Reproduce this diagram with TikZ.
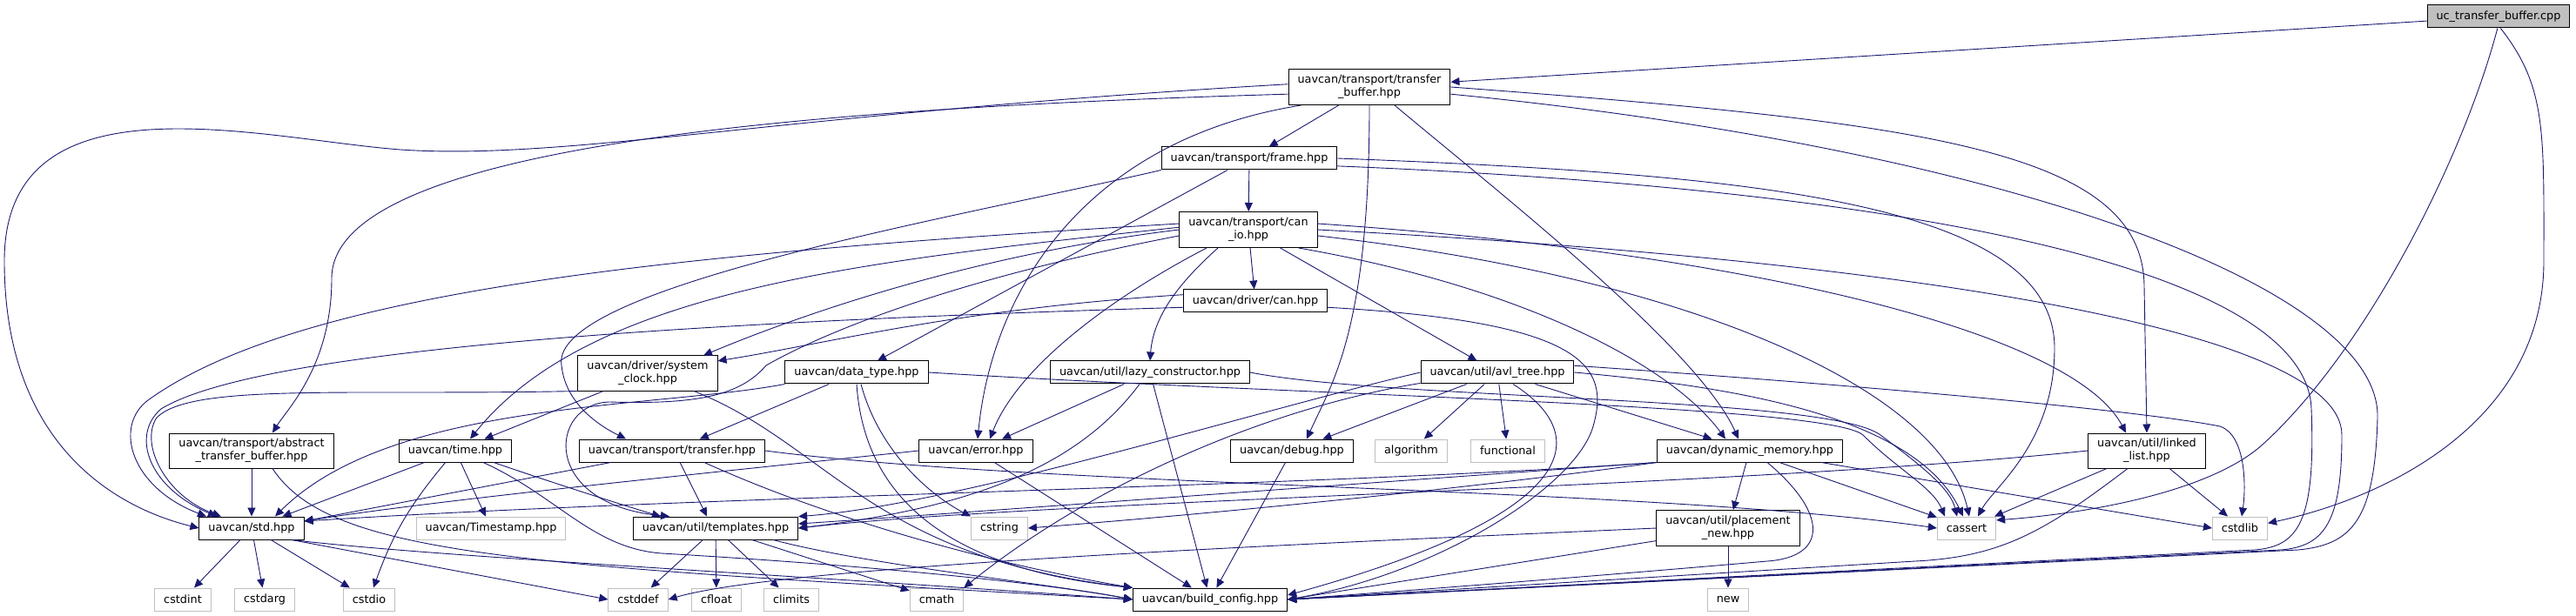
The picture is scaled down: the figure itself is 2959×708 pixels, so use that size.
\documentclass[tikz,border=0pt]{standalone}
\usepackage{fontspec}
\setmainfont{DejaVu Sans}
\usetikzlibrary{arrows.meta}
\definecolor{edgeblue}{HTML}{191970}
\definecolor{boxgrey}{HTML}{BFBFBF}
\def\incfont{\fontsize{12.8}{15}\selectfont}

\begin{document}
\begin{tikzpicture}[x=1pt,y=-1pt,
    >={Triangle[length=10pt,width=9pt]},
    hdr/.style={draw=black,fill=white,line width=1pt,font=\incfont,inner xsep=10.5pt,inner ysep=2pt,minimum height=26pt,align=center},
    hdrtwo/.style={hdr,minimum height=41pt},
    syshdr/.style={hdr,draw=boxgrey},
    srcfile/.style={hdr,fill=boxgrey},
    dep/.style={->,edgeblue,line width=0.9pt}]
\useasboundingbox (0,0) rectangle (2959,708);

          \node [srcfile] at (2870,19) (root) {uc\_transfer\_buffer.cpp};
             \node [hdrtwo] at (1573,100) (tbuf) {uavcan/transport/transfer\\\_buffer.hpp};
              \node [hdr] at (1435,182) (frame) {uavcan/transport/frame.hpp};
               \node [hdrtwo] at (1434,264) (canio) {uavcan/transport/can\\\_io.hpp};
                \node [hdr] at (1442,346) (drvcan) {uavcan/driver/can.hpp};
                 \node [hdr] at (1321,428) (lazy) {uavcan/util/lazy\_constructor.hpp};
                 \node [hdr] at (1720,428) (avl) {uavcan/util/avl\_tree.hpp};
                 \node [hdr] at (984,428) (dtype) {uavcan/data\_type.hpp};
                 \node [hdrtwo,minimum height=40pt] at (744,429) (sysclk) {uavcan/driver/system\\\_clock.hpp};
%
                \node [hdr] at (523,518) (time) {uavcan/time.hpp};
                \node [hdr] at (772,518) (xfer) {uavcan/transport/transfer.hpp};
                \node [hdr] at (1121,518) (err) {uavcan/error.hpp};
                \node [hdr] at (1484,518) (dbg) {uavcan/debug.hpp};
                \node [syshdr] at (1621,518) (algo) {algorithm};
                \node [syshdr] at (1732,518) (func) {functional};
                \node [hdr] at (2010,518) (dynmem) {uavcan/dynamic\_memory.hpp};
                \node [hdrtwo,minimum height=40pt] at (2466,518) (llist) {uavcan/util/linked\\\_list.hpp};
                \node [hdrtwo,minimum height=40pt] at (289,518) (absbuf) {uavcan/transport/abstract\\\_transfer\_buffer.hpp};
%
               \node [hdr] at (289,607) (std) {uavcan/std.hpp};
               \node [syshdr] at (564,607) (tstamp) {uavcan/Timestamp.hpp};
               \node [hdr] at (822,607) (tmpl) {uavcan/util/templates.hpp};
               \node [syshdr] at (1148,607) (cstring) {cstring};
               \node [syshdr] at (2259,607) (cassert) {cassert};
               \node [syshdr] at (2573,607) (cstdlib) {cstdlib};
               \node [hdrtwo] at (1985,607) (plnew) {uavcan/util/placement\\\_new.hpp};
%
             \node [syshdr] at (210,689) (cstdint) {cstdint};
             \node [syshdr] at (304,689) (cstdarg) {cstdarg};
             \node [syshdr] at (424,689) (cstdio) {cstdio};
             \node [syshdr] at (733,689) (cstddef) {cstddef};
             \node [syshdr] at (823,689) (cfloat) {cfloat};
             \node [syshdr] at (909,689) (climits) {climits};
             \node [syshdr] at (1076,689) (cmath) {cmath};
             \node [hdr] at (1390,689) (bcfg) {uavcan/build\_config.hpp};
             \node [syshdr] at (1985,689) (cnew) {new};
%
%
\path[dep] (root) edge (tbuf);
\draw[dep] (root.-95) .. controls (2830,180) and (2720,400) .. (2600,510) .. controls (2540,565) and (2400,590) .. (cassert.15);
\draw[dep] (root.-80) .. controls (2925,100) and (2922,150) .. (2922,300) .. controls (2922,480) and (2750,570) .. (cstdlib.10);
%
\path[dep] (tbuf) edge (frame);
\draw[dep] (tbuf.178) .. controls (900,130) and (650,185) .. (460,172) .. controls (300,160) and (5,80) .. (5,300) .. controls (5,500) and (120,580) .. (std.west);
\draw[dep] (tbuf.185) .. controls (900,125) and (381,170) .. (381,320) .. controls (381,420) and (330,470) .. ([xshift=24pt]absbuf.north);
\draw[dep] (tbuf.195) .. controls (1250,160) and (1140,330) .. ([xshift=2pt]err.north);
\draw[dep] (tbuf.south) .. controls (1573,380) and (1530,440) .. ([xshift=17pt]dbg.north);
\draw[dep] ([xshift=29pt]tbuf.south) .. controls (1720,220) and (1950,400) .. ([xshift=-13pt]dynmem.north);
\draw[dep] (tbuf.east) .. controls (2200,140) and (2463,170) .. (2463,330) -- (llist.north);
\draw[dep] (tbuf.-5) .. controls (2300,170) and (2735,330) .. (2731,480) .. controls (2728,600) and (2700,626) .. (2640,632) -- (bcfg.east);
%
\path[dep] (frame) edge (canio);
\draw[dep] (frame.south west) .. controls (1100,250) and (630,330) .. (645,420) .. controls (650,470) and (700,495) .. ([xshift=-53pt]xfer.north);
\path[dep] ([xshift=-25pt]frame.south) edge ([xshift=24pt]dtype.north);
\draw[dep] (frame.east) .. controls (2000,200) and (2360,230) .. (2360,400) .. controls (2360,510) and (2290,560) .. ([xshift=13pt]cassert.north);
\draw[dep] (frame.-5) .. controls (2250,220) and (2650,320) .. (2655,470) .. controls (2660,600) and (2640,628) .. (2590,632) -- (bcfg.east);
%
\path[dep] (canio) edge (drvcan);
\path[dep] (canio) edge (avl);
\draw[dep] ([xshift=-35pt]canio.south) .. controls (1360,320) and (1325,360) .. (lazy.north);
\draw[dep] ([xshift=-48pt]canio.south) .. controls (1280,340) and (1170,420) .. ([xshift=16pt]err.north);
\draw[dep] (canio.west) .. controls (1100,295) and (900,370) .. ([xshift=64pt]sysclk.north);
\draw[dep] (canio.178) .. controls (1000,300) and (680,330) .. ([xshift=17pt]time.north);
\draw[dep] (canio.175) .. controls (800,290) and (350,330) .. (170,460) .. controls (130,490) and (150,560) .. ([xshift=-52pt]std.north);
\draw[dep] (canio.185) .. controls (1100,320) and (950,380) .. (880,420) .. controls (850,455) and (800,465) .. (700,462) .. controls (630,464) and (620,580) .. ([xshift=-53pt]tmpl.north);
\draw[dep] (canio.-20) .. controls (1750,330) and (1920,420) .. ([xshift=-28pt]dynmem.north);
\draw[dep] (canio.5) .. controls (2000,290) and (2380,380) .. ([xshift=-24pt]llist.north);
\draw[dep] (canio.-5) .. controls (1950,320) and (2230,450) .. ([xshift=3pt]cassert.north);
\draw[dep] (canio.east) .. controls (2200,300) and (2690,380) .. (2690,500) .. controls (2690,600) and (2670,628) .. (2620,632) -- (bcfg.east);
%
\draw[dep] (drvcan.175) .. controls (1100,355) and (950,395) .. (sysclk.10);
\draw[dep] (drvcan.185) .. controls (800,370) and (300,400) .. (185,470) .. controls (150,500) and (170,560) .. ([xshift=-40pt]std.north);
\draw[dep] (drvcan.-5) .. controls (1820,370) and (1850,420) .. (1830,490) .. controls (1810,560) and (1650,660) .. (bcfg.east);
%
\path[dep] (sysclk) edge (time);
\draw[dep] (sysclk.south west) .. controls (400,455) and (220,440) .. (180,480) .. controls (160,510) and (190,570) .. ([xshift=-35pt]std.north);
\draw[dep] ([xshift=53pt]sysclk.south) .. controls (950,510) and (1000,640) .. (bcfg.north west);
%
\path[dep] (dtype) edge (xfer);
\draw[dep] (dtype.south west) .. controls (750,470) and (450,460) .. ([xshift=27pt]std.north);
\draw[dep] ([xshift=5pt]dtype.south) .. controls (1010,520) and (1070,570) .. (cstring.north west);
\draw[dep] (dtype.south) .. controls (995,610) and (1150,660) .. (bcfg.north west);
\draw[dep] (dtype.east) .. controls (1500,455) and (2100,465) .. (2140,500) .. controls (2180,540) and (2220,560) .. ([xshift=-25pt]cassert.north);
%
\path[dep] (lazy) edge (err);
\draw[dep] ([xshift=-12pt]lazy.south) .. controls (1250,520) and (1150,580) .. (tmpl.east);
\path[dep] (lazy) edge (bcfg);
\draw[dep] (lazy.east) .. controls (1600,460) and (2100,455) .. (2160,500) .. controls (2200,530) and (2240,560) .. ([xshift=-11pt]cassert.north);
%
\path[dep] (avl) edge (dbg);
\path[dep] (avl) edge (algo);
\path[dep] (avl) edge (func);
\path[dep] (avl) edge (dynmem);
\draw[dep] (avl.west) .. controls (1450,470) and (1100,580) .. (tmpl.8);
\draw[dep] (avl.-172) .. controls (1450,470) and (1250,560) .. (cmath.north east);
\draw[dep] ([xshift=18pt]avl.south) .. controls (1830,500) and (1820,590) .. ([yshift=5pt]bcfg.east);
\draw[dep] (avl.east) .. controls (2000,445) and (2200,480) .. ([xshift=-4pt]cassert.north);
\draw[dep] (avl.5) .. controls (2100,440) and (2450,470) .. (2550,490) .. controls (2580,500) and (2580,560) .. ([xshift=2pt]cstdlib.north);
%
\path[dep] (time) edge (std);
\path[dep] (time) edge (tstamp);
\path[dep] (time) edge[bend right=10] (cstdio);
\draw[dep] ([xshift=44pt]time.south) .. controls (650,560) and (730,585) .. ([xshift=-63pt]tmpl.north);
\draw[dep] ([xshift=32pt]time.south) .. controls (640,570) and (680,630) .. (760,636) .. controls (1000,650) and (1200,670) .. (bcfg.west);
%
\path[dep] (xfer) edge ([yshift=8pt]std.east);
\path[dep] ([xshift=9pt]xfer.south) edge ([xshift=-10pt]tmpl.north);
\draw[dep] ([xshift=37pt]xfer.south) .. controls (960,600) and (1150,650) .. (bcfg.north west);
\draw[dep] (xfer.east) .. controls (1200,560) and (1900,560) .. (cassert.west);
%
\draw[dep] (err.west) .. controls (800,545) and (500,575) .. ([yshift=8pt]std.east);
\path[dep] (err) edge (bcfg);
\path[dep] (dbg) edge (bcfg);
%
\draw[dep] (dynmem.south west) .. controls (1500,560) and (800,570) .. ([yshift=8pt]std.east);
\draw[dep] (dynmem.south west) .. controls (1500,560) and (1100,590) .. (tmpl.3);
\draw[dep] (dynmem.south west) .. controls (1700,560) and (1400,590) .. (cstring.east);
\path[dep] ([xshift=-4pt]dynmem.south) edge (plnew);
\path[dep] ([xshift=34pt]dynmem.south) edge (cassert.160);
\path[dep] ([xshift=82pt]dynmem.south) edge (cstdlib.west);
\draw[dep] ([xshift=20pt]dynmem.south) .. controls (2100,590) and (2100,640) .. (2030,645) .. controls (1800,665) and (1600,680) .. (bcfg.east);
%
\draw[dep] (llist.west) .. controls (2000,560) and (1200,575) .. (tmpl.east);
\path[dep] ([xshift=-46pt]llist.south) edge ([xshift=32pt]cassert.north);
\path[dep] ([xshift=26pt]llist.south) edge ([xshift=-14pt]cstdlib.north);
\draw[dep] ([xshift=-22pt]llist.south) .. controls (2350,610) and (2300,640) .. (2200,645) -- (bcfg.east);
%
\path[dep] (plnew) edge (cnew);
\draw[dep] (plnew.west) .. controls (1500,625) and (900,650) .. (cstddef.east);
\path[dep] (plnew.-170) edge (bcfg.east);
%
\path[dep] (absbuf) edge (std);
\draw[dep] ([xshift=24pt]absbuf.south) .. controls (380,640) and (600,650) .. (bcfg.west);
%
\path[dep] (std) edge (cstdint);
\path[dep] (std) edge (cstdarg);
\path[dep] (std) edge (cstdio);
\path[dep] ([xshift=46pt]std.south) edge (cstddef.west);
\draw[dep] ([xshift=46pt]std.south) .. controls (500,640) and (900,660) .. (bcfg.west);
%
\path[dep] (tmpl) edge (cstddef);
\path[dep] (tmpl) edge (cfloat);
\path[dep] (tmpl) edge (climits);
\path[dep] (tmpl) edge (cmath);
\draw[dep] ([xshift=66pt]tmpl.south) .. controls (1000,650) and (1200,670) .. (bcfg.west);

\end{tikzpicture}
\end{document}
